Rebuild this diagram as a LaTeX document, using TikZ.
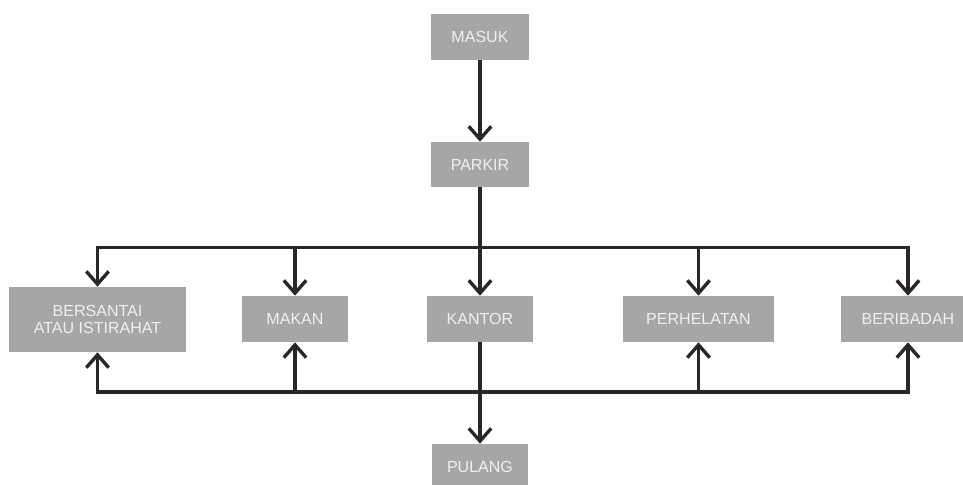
\documentclass[tikz,border=0pt]{standalone}
\usepackage{fontspec}
\setmainfont{Liberation Sans}
\usetikzlibrary{arrows.meta}

\definecolor{kotak}{HTML}{A6A6A6}
\definecolor{garis}{HTML}{2B2525}
\definecolor{huruf}{HTML}{F0F0F0}

\tikzset{
    box/.style={fill=kotak, text=huruf, inner sep=0pt, align=center,
        font=\fontsize{11.4}{12.5}\selectfont},
    panah/.style={draw=garis, line width=2.4pt,
        -{Straight Barb[length=0.32cm, width=0.56cm]}},
    jalur/.style={draw=garis, line width=2.4pt, line cap=rect}
}

\begin{document}
\begin{tikzpicture}[x=0.025cm, y=-0.025cm]
    \useasboundingbox (0,0) rectangle (963,485);

    % kotak
    \node[box, minimum width=2.45cm, minimum height=1.15cm] (masuk) at (480,37) {MASUK};
    \node[box, minimum width=2.45cm, minimum height=1.125cm] (parkir) at (480,164.5) {PARKIR};
    \node[box, minimum width=4.425cm, minimum height=1.625cm] (santai) at (97.5,319.5) {BERSANTAI\\ATAU ISTIRAHAT};
    \node[box, minimum width=2.65cm, minimum height=1.15cm] (makan) at (295,319) {MAKAN};
    \node[box, minimum width=2.65cm, minimum height=1.15cm] (kantor) at (480,319) {KANTOR};
    \node[box, minimum width=3.775cm, minimum height=1.15cm] (helat) at (698.5,319) {PERHELATAN};
    \node[box, minimum width=3.35cm, minimum height=1.15cm] (ibadah) at (908,319) {BERIBADAH};
    \node[box, minimum width=2.4cm, minimum height=1.15cm] (pulang) at (480,467) {PULANG};

    \coordinate (atas) at (480,247.5);
    \coordinate (bawah) at (480,392);

    % alur masuk
    \draw[panah] (masuk) -- (parkir);
    \draw[panah] (parkir) -- (kantor);
    \draw[panah] (atas) -| (santai);
    \draw[panah] (atas) -| (ibadah);
    \draw[panah] (makan.north |- atas) -- (makan);
    \draw[panah] (helat.north |- atas) -- (helat);

    % alur keluar
    \draw[jalur] (santai.south |- bawah) -- (ibadah.south |- bawah);
    \draw[panah] (santai.south |- bawah) -- (santai);
    \draw[panah] (makan.south |- bawah) -- (makan);
    \draw[panah] (helat.south |- bawah) -- (helat);
    \draw[panah] (ibadah.south |- bawah) -- (ibadah);
    \draw[panah] (kantor) -- (pulang);
\end{tikzpicture}
\end{document}
